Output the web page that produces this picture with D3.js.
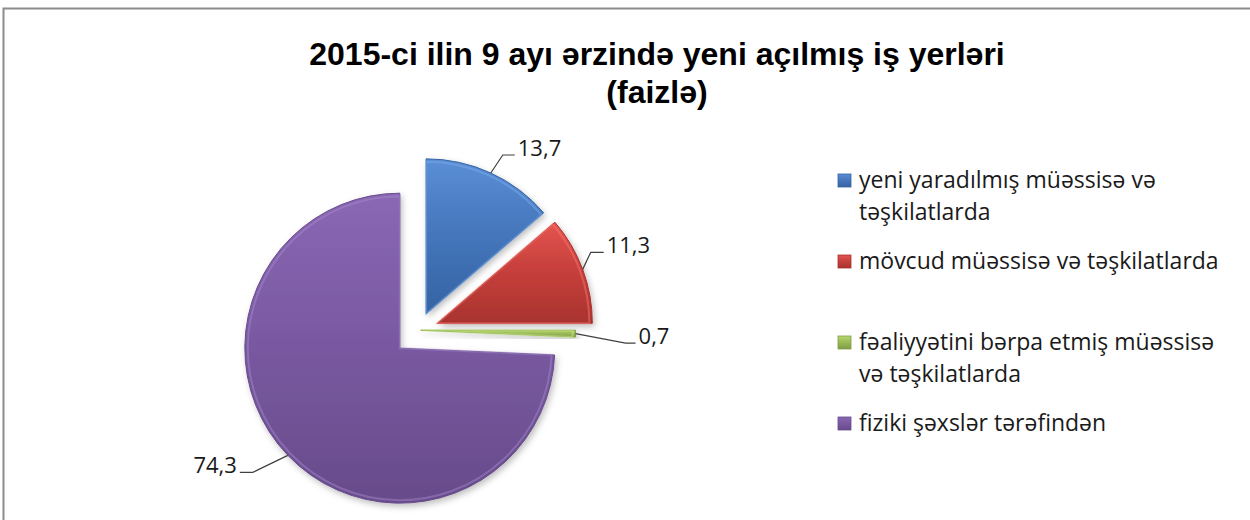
<!DOCTYPE html>
<html>
<head>
<meta charset="utf-8">
<script src="https://cdn.jsdelivr.net/npm/d3@7/dist/d3.min.js"></script>
<style>
  html, body { margin: 0; padding: 0; background: #fff; }
  svg { display: block; }
</style>
</head>
<body>
<svg id="chart" width="1250" height="520"></svg>
<script>
// ---------- data ----------
const categories = [
  "yeni yaradılmış müəssisə və təşkilatlarda",
  "mövcud müəssisə və təşkilatlarda",
  "fəaliyyətini bərpa etmiş müəssisə və təşkilatlarda",
  "fiziki şəxslər tərəfindən"
];
const legendLines = [
  ["yeni yaradılmış müəssisə və", "təşkilatlarda"],
  ["mövcud müəssisə və təşkilatlarda"],
  ["fəaliyyətini bərpa etmiş müəssisə", "və təşkilatlarda"],
  ["fiziki şəxslər tərəfindən"]
];
const values = [13.7, 11.3, 0.7, 74.3];
const valueLabels = ["13,7", "11,3", "0,7", "74,3"];
const titleLines = ["2015-ci ilin 9 ayı ərzində yeni açılmış iş yerləri", "(faizlə)"];

// ---------- style ----------
const colors = [
  { top: "#5a8fd6", mid: "#4677bd", bot: "#3563a3", edge: "#7fb0ee" },
  { top: "#e45550", mid: "#c8403c", bot: "#a8332f", edge: "#ff7a72" },
  { top: "#b5d86e", mid: "#9bbb59", bot: "#7f9e45", edge: "#cfee8a" },
  { top: "#8a68b4", mid: "#7a5aa2", bot: "#674b8a", edge: "#a88bd0" }
];
const explode = [18, 20, 2, 26];
const cx = 418.6, cy = 330.2, R = 155;
const labelFont = "'Open Sans', 'Noto Sans', sans-serif";
const labelSize = 22;
const legendSize = 23;

const svg = d3.select("#chart");
const defs = svg.append("defs");

// gradients
colors.forEach((c, i) => {
  const g = defs.append("linearGradient")
    .attr("id", "g" + i).attr("x1", 0).attr("y1", 0).attr("x2", 0).attr("y2", 1);
  g.append("stop").attr("offset", "0%").attr("stop-color", c.top);
  g.append("stop").attr("offset", "45%").attr("stop-color", c.mid);
  g.append("stop").attr("offset", "100%").attr("stop-color", c.bot);
});
const f = defs.append("filter").attr("id", "shadow")
  .attr("x", "-20%").attr("y", "-20%").attr("width", "140%").attr("height", "140%");
f.append("feDropShadow").attr("dx", 2).attr("dy", 3).attr("stdDeviation", 3)
  .attr("flood-color", "#000").attr("flood-opacity", 0.25);

// frame
svg.append("rect")
  .attr("x", 3.5).attr("y", 8.5).attr("width", 1260).attr("height", 530)
  .attr("fill", "#fff").attr("stroke", "#8c8c8c").attr("stroke-width", 2);

// title
svg.append("text")
  .attr("x", 657).attr("y", 65)
  .attr("text-anchor", "middle")
  .attr("font-family", "'Liberation Sans', Arial, sans-serif")
  .attr("font-weight", "bold").attr("font-size", 32).attr("fill", "#000")
  .selectAll("tspan").data(titleLines).join("tspan")
  .attr("x", 657).attr("dy", (d, i) => i === 0 ? 0 : 38)
  .text(d => d);

// pie
const pie = d3.pie().sort(null).value(d => d).startAngle(0).endAngle(2 * Math.PI);
const arcs = pie(values);
const arc = d3.arc().innerRadius(0).outerRadius(R);
const arcInner = d3.arc().innerRadius(0).outerRadius(R - 3);

const dir = a => [Math.sin(a), -Math.cos(a)];

const gPie = svg.append("g").attr("transform", `translate(${cx},${cy})`);
const slices = gPie.selectAll("g.slice").data(arcs).join("g")
  .attr("class", "slice")
  .attr("transform", (d, i) => {
    const m = (d.startAngle + d.endAngle) / 2;
    const [ux, uy] = dir(m);
    return `translate(${ux * explode[i]},${uy * explode[i]})`;
  });
slices.append("path")
  .attr("d", arc)
  .attr("fill", (d, i) => `url(#g${i})`)
  .attr("stroke", (d, i) => colors[i].bot)
  .attr("stroke-width", 1)
  .attr("filter", "url(#shadow)");
slices.append("path")
  .attr("d", arcInner)
  .attr("fill", "none")
  .attr("stroke", (d, i) => colors[i].edge)
  .attr("stroke-opacity", 0.45)
  .attr("stroke-width", 2);

// value labels with leader lines
const elbow = [[12, -18], [8, -17], [50, 9.5], [-35, 17]];
const tail = [12, 13, 10, -13];
const labelG = svg.append("g");
arcs.forEach((d, i) => {
  const m = (d.startAngle + d.endAngle) / 2;
  const [ux, uy] = dir(m);
  const ax = cx + ux * (explode[i] + R), ay = cy + uy * (explode[i] + R);
  const ex = ax + elbow[i][0], ey = ay + elbow[i][1];
  const tx = ex + tail[i];
  labelG.append("path")
    .attr("d", d3.line()([[ax, ay], [ex, ey], [tx, ey]]))
    .attr("fill", "none").attr("stroke", "#404040").attr("stroke-width", 1.2);
  const right = tail[i] >= 0;
  labelG.append("text")
    .attr("x", right ? tx + 3 : tx - 3)
    .attr("y", ey + 1)
    .attr("text-anchor", right ? "start" : "end")
    .attr("font-family", labelFont).attr("font-size", labelSize).attr("fill", "#1a1a1a")
    .text(valueLabels[i]);
});

// legend
const legendX = 838;
const legendY = [180, 261, 342, 423];
const lg = svg.append("g");
legendLines.forEach((lines, i) => {
  const y = legendY[i];
  lg.append("rect")
    .attr("x", legendX).attr("y", y - 6).attr("width", 13).attr("height", 13)
    .attr("fill", `url(#g${i})`).attr("stroke", colors[i].bot).attr("stroke-width", 0.8);
  const t = lg.append("text")
    .attr("x", legendX + 21).attr("y", y + 8)
    .attr("font-family", labelFont).attr("font-size", legendSize).attr("fill", "#1a1a1a");
  t.selectAll("tspan").data(lines).join("tspan")
    .attr("x", legendX + 21).attr("dy", (d, j) => j === 0 ? 0 : 32)
    .text(d => d);
});
</script>
</body>
</html>
